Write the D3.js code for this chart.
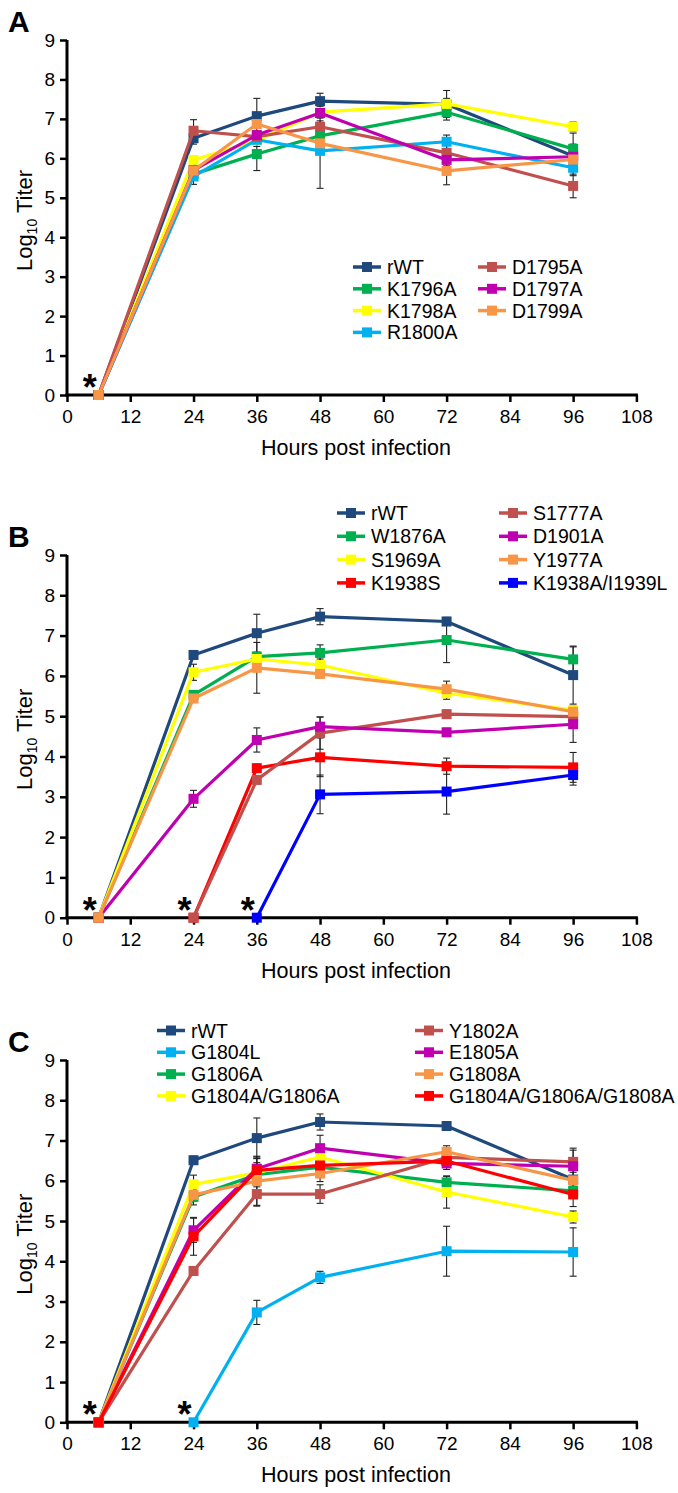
<!DOCTYPE html>
<html><head><meta charset="utf-8">
<script src="https://cdn.jsdelivr.net/npm/d3@7"></script>
<style>body{margin:0;background:#fff}svg text{font-family:"Liberation Sans",Arial,sans-serif}</style>
</head><body><svg id="c" width="678" height="1493"></svg>
<script>
const hours = [6, 24, 36, 48, 72, 96];
const xTicks = [0, 12, 24, 36, 48, 60, 72, 84, 96, 108];
const yTicks = [0, 1, 2, 3, 4, 5, 6, 7, 8, 9];

// Panel A
const namesA = ["rWT", "K1796A", "K1798A", "R1800A", "D1795A", "D1797A", "D1799A"];
const colorsA = ["#1F497D", "#00B050", "#FFFF00", "#00B0F0", "#C0504D", "#C000B0", "#F79646"];
const valuesA = [
  [0, 6.51, 7.07, 7.45, 7.37, 6.06],
  [0, 5.60, 6.11, 6.57, 7.17, 6.24],
  [0, 5.96, 6.45, 7.17, 7.38, 6.80],
  [0, 5.54, 6.47, 6.19, 6.42, 5.76],
  [0, 6.70, 6.55, 6.80, 6.14, 5.30],
  [0, 5.70, 6.59, 7.15, 5.96, 6.04],
  [0, 5.69, 6.87, 6.38, 5.68, 5.97]
];
const errorsA = [
  [0, 0.15, 0.45, 0.20, 0.15, 0.30],
  [0, 0.15, 0.42, 0.15, 0.20, 0.40],
  [0, 0.10, 0.15, 0.15, 0.34, 0.12],
  [0, 0.20, 0.10, 0.95, 0.17, 0.20],
  [0, 0.28, 0.10, 0.15, 0.20, 0.30],
  [0, 0.10, 0.10, 0.10, 0.15, 0.10],
  [0, 0.15, 0.10, 0.15, 0.35, 0.10]
];

// Panel B
const namesB = ["rWT", "W1876A", "S1969A", "K1938S", "S1777A", "D1901A", "Y1977A", "K1938A/I1939L"];
const colorsB = ["#1F497D", "#00B050", "#FFFF00", "#FF0000", "#C0504D", "#C000B0", "#F79646", "#0000FF"];
const valuesB = [
  [0, 6.52, 7.06, 7.47, 7.35, 6.02],
  [0, 5.53, 6.48, 6.57, 6.89, 6.41],
  [0, 6.09, 6.42, 6.27, 5.57, 5.15],
  [null, 0, 3.71, 3.98, 3.76, 3.73],
  [null, 0, 3.42, 4.58, 5.05, 4.99],
  [0, 2.95, 4.41, 4.74, 4.60, 4.80],
  [0, 5.44, 6.20, 6.05, 5.67, 5.11],
  [null, null, 0, 3.06, 3.13, 3.54]
];
const errorsB = [
  [0, 0.10, 0.47, 0.20, 0.10, 0.72],
  [0, 0.10, 0.10, 0.20, 0.56, 0.31],
  [0, 0.20, 0.15, 0.15, 0.15, 0.10],
  [null, 0, 0.10, 0.48, 0.20, 0.37],
  [null, 0, 0.10, 0.40, 0.10, 0.10],
  [0, 0.21, 0.30, 0.24, 0.10, 0.45],
  [0, 0.10, 0.63, 0.10, 0.20, 0.10],
  [null, null, 0, 0.48, 0.56, 0.25]
];

// Panel C
const namesC = ["rWT", "G1804L", "G1806A", "G1804A/G1806A", "Y1802A", "E1805A", "G1808A", "G1804A/G1806A/G1808A"];
const colorsC = ["#1F497D", "#00B0F0", "#00B050", "#FFFF00", "#C0504D", "#C000B0", "#F79646", "#FF0000"];
const valuesC = [
  [0, 6.51, 7.06, 7.46, 7.36, 6.03],
  [null, 0, 2.73, 3.60, 4.25, 4.23],
  [0, 5.60, 6.15, 6.34, 5.96, 5.75],
  [0, 5.91, 6.20, 6.59, 5.72, 5.10],
  [0, 3.76, 5.67, 5.67, 6.58, 6.47],
  [0, 4.77, 6.30, 6.81, 6.43, 6.36],
  [0, 5.65, 5.99, 6.18, 6.72, 6.01],
  [0, 4.62, 6.26, 6.38, 6.49, 5.66]
];
const errorsC = [
  [0, 0.10, 0.50, 0.20, 0.10, 0.10],
  [null, 0, 0.30, 0.15, 0.62, 0.60],
  [0, 0.20, 0.30, 0.15, 0.15, 0.15],
  [0, 0.23, 0.20, 0.15, 0.40, 0.15],
  [0, 0.10, 0.30, 0.23, 0.15, 0.34],
  [0, 0.30, 0.25, 0.32, 0.15, 0.40],
  [0, 0.15, 0.60, 0.20, 0.15, 0.20],
  [0, 0.47, 0.35, 0.30, 0.15, 0.30]
];

const svg = d3.select("#c");

const panels = [
  { letter: "A", names: namesA, colors: colorsA, values: valuesA, errors: errorsA,
    yTop: 40, yBot: 395, stars: [6],
    legend: { cols: [[0,1,2,3],[4,5,6]], x: [353, 478], y0: 267, dy: 21.8 } },
  { letter: "B", names: namesB, colors: colorsB, values: valuesB, errors: errorsB,
    yTop: 555, yBot: 917.7, stars: [6, 24, 36],
    legend: { cols: [[0,1,2,3],[4,5,6,7]], x: [337, 499], y0: 513, dy: 23.3 } },
  { letter: "C", names: namesC, colors: colorsC, values: valuesC, errors: errorsC,
    yTop: 1060, yBot: 1422.3, stars: [6, 24],
    legend: { cols: [[0,1,2,3],[4,5,6,7]], x: [157, 415], y0: 1030.5, dy: 21.8 } }
];

const x0 = 67, x1 = 636.4;

panels.forEach(p => {
  const x = d3.scaleLinear().domain([0, 108]).range([x0, x1]);
  const y = d3.scaleLinear().domain([0, 9]).range([p.yBot, p.yTop]);
  const g = svg.append("g");

  // axes
  const ax = g.append("g").attr("transform", `translate(0,${p.yBot})`)
    .call(d3.axisBottom(x).tickValues(xTicks).tickSize(7).tickPadding(7.5).tickSizeOuter(0));
  const ay = g.append("g").attr("transform", `translate(${x0},0)`)
    .call(d3.axisLeft(y).tickValues(yTicks).tickSize(7).tickPadding(5).tickSizeOuter(0));
  [ax, ay].forEach(a => {
    a.select(".domain").attr("stroke", "#000").attr("stroke-width", 3);
    a.selectAll(".tick line").attr("stroke", "#000").attr("stroke-width", 2.5);
    a.selectAll("text").attr("font-size", 19).attr("fill", "#000");
  });
  ax.select(".domain").attr("d", `M${x0 - 1.5},0H${x1 + 1.5}`);
  ay.select(".domain").attr("d", `M0,${p.yTop}V${p.yBot + 1.5}`);

  // titles
  g.append("text").attr("x", 356).attr("y", p.yBot + 60)
    .attr("text-anchor", "middle").attr("font-size", 21.5).text("Hours post infection");
  const yt = g.append("text").attr("transform", `translate(32,${(p.yTop + p.yBot) / 2 + 3}) rotate(-90)`)
    .attr("text-anchor", "middle").attr("font-size", 22);
  yt.append("tspan").text("Log");
  yt.append("tspan").attr("font-size", 14).attr("dy", 5).text("10");
  yt.append("tspan").attr("dy", -5).text(" Titer");

  g.append("text").attr("x", 8).attr("y", p.yTop - 8).attr("font-size", 30)
    .attr("font-weight", "bold").text(p.letter);

  // error bars
  p.names.forEach((n, i) => {
    const eg = g.append("g").attr("stroke", "#222").attr("stroke-width", 1.1);
    hours.forEach((h, j) => {
      const v = p.values[i][j], e = p.errors[i][j];
      if (v == null || !e) return;
      const cx = x(h);
      eg.append("line").attr("x1", cx).attr("x2", cx).attr("y1", y(v - e)).attr("y2", y(v + e));
      [v - e, v + e].forEach(t => eg.append("line").attr("x1", cx - 3.5).attr("x2", cx + 3.5).attr("y1", y(t)).attr("y2", y(t)));
    });
  });

  // lines and markers
  p.names.forEach((n, i) => {
    const pts = hours.map((h, j) => [h, p.values[i][j]]).filter(d => d[1] != null);
    g.append("path").datum(pts).attr("fill", "none").attr("stroke", p.colors[i])
      .attr("stroke-width", 3.2).attr("stroke-linejoin", "round")
      .attr("d", d3.line().x(d => x(d[0])).y(d => y(d[1])));
    g.selectAll(null).data(pts).enter().append("rect")
      .attr("x", d => x(d[0]) - 5).attr("y", d => y(d[1]) - 5)
      .attr("width", 10).attr("height", 10).attr("fill", p.colors[i]);
  });

  // asterisks
  p.stars.forEach(h => {
    g.append("text").attr("x", x(h) - 9).attr("y", p.yBot + 5).attr("text-anchor", "middle")
      .attr("font-size", 36).attr("font-weight", "bold").text("*");
  });

  // legend
  const L = p.legend;
  L.cols.forEach((col, ci) => {
    col.forEach((si, ri) => {
      const ly = L.y0 + ri * L.dy, lx = L.x[ci];
      g.append("line").attr("x1", lx).attr("x2", lx + 28).attr("y1", ly).attr("y2", ly)
        .attr("stroke", p.colors[si]).attr("stroke-width", 3.5);
      g.append("rect").attr("x", lx + 9).attr("y", ly - 5).attr("width", 10).attr("height", 10)
        .attr("fill", p.colors[si]);
      g.append("text").attr("x", lx + 34).attr("y", ly + 7).attr("font-size", 19.5).text(p.names[si]);
    });
  });
});
</script></body></html>
